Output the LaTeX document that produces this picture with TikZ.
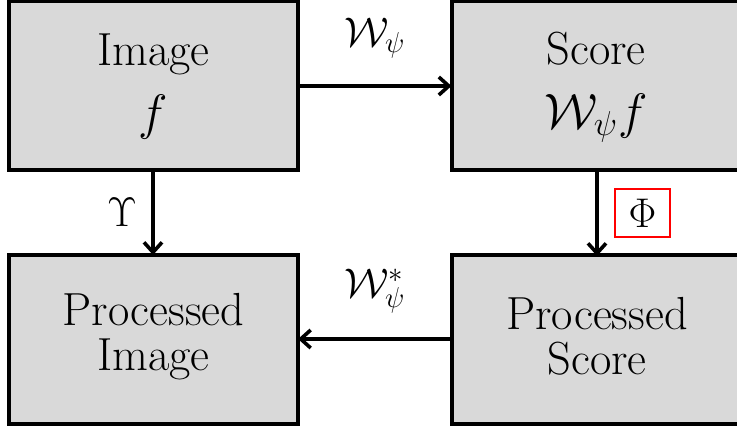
\documentclass[tikz,border=0pt]{standalone}
\usetikzlibrary{arrows.meta}
\definecolor{boxgray}{RGB}{217,217,217}
\tikzset{
  block/.style={draw=black, line width=2pt, fill=boxgray, rectangle},
  flow/.style={line width=1.8pt, -{Straight Barb[length=5pt,width=9pt,line width=1.8pt]}},
  lbl/.style={inner sep=0pt, font=\fontsize{21}{23.5}\selectfont},
  boxtext/.style={align=center, font=\fontsize{23.2}{22.5}\selectfont, inner sep=0pt},
}
\begin{document}
\begin{tikzpicture}[x=0.5pt, y=-0.5pt]
  \useasboundingbox (0,0) rectangle (737,427);
  \clip (0,0) rectangle (737,427);
  % four boxes
  \draw[block] (9,1.5) rectangle (298,170);
  \draw[block] (451.5,1.5) rectangle (780,170);
  \draw[block] (9,255) rectangle (298,424);
  \draw[block] (451.5,255) rectangle (780,424);
  % box contents
  \node[boxtext] (img) at (153.5,86) {Image\\[9.5pt]$f$};
  \node[boxtext] (score) at (596,87) {Score\\[9.5pt]$\mathcal{W}_\psi f$};
  \node[boxtext] (pimg) at (153.5,336.5) {Processed\\Image};
  \node[boxtext] (pscore) at (597,336.5) {Processed\\Score};
  % anchor points on the box edges
  \coordinate (imgR) at (298,86);
  \coordinate (scoreL) at (451.5,86);
  \coordinate (imgB) at (153,170);
  \coordinate (pimgT) at (153,255);
  \coordinate (scoreB) at (597,170);
  \coordinate (pscoreT) at (597,256);
  \coordinate (pscoreL) at (451.5,339);
  \coordinate (pimgR) at (298,339);
  % transforms
  \draw[flow] (imgR) -- node[lbl, above=13pt] (w) {$\mathcal{W}_\psi$} (scoreL);
  \draw[flow] (pscoreL) -- node[lbl, above=12pt] (ws) {$\mathcal{W}_\psi^*$} (pimgR);
  \draw[flow] (imgB) -- (pimgT);
  \draw[flow] (scoreB) -- (pscoreT);
  \node[lbl] (ups) at (122,212) {$\Upsilon$};
  \node[draw=red, line width=0.8pt, inner sep=0pt, minimum width=27.5pt, minimum height=24pt,
        font=\fontsize{21}{23.5}\selectfont] (phi) at (642.5,213) {$\Phi$};
\end{tikzpicture}
\end{document}
